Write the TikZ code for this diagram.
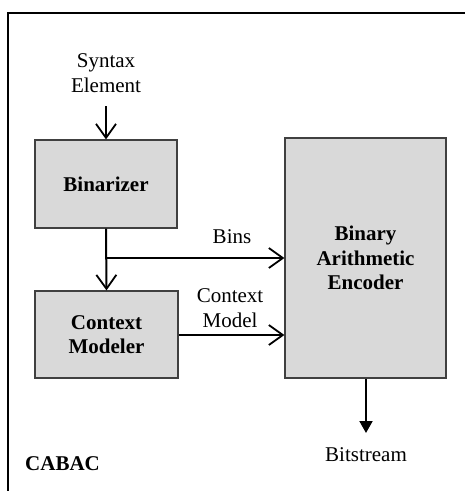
\documentclass[tikz,border=0pt]{standalone}
\usepackage{fontspec}
\setmainfont{Liberation Serif}
\usetikzlibrary{arrows.meta}
\begin{document}
\begin{tikzpicture}[x=1pt,y=-1pt,
  blk/.style={draw=black!75, line width=1.2pt, fill=black!15, inner sep=0pt, align=center, font=\fontsize{21}{24.5}\selectfont\bfseries},
  lbl/.style={inner sep=0pt, align=center, font=\fontsize{21}{24.5}\selectfont},
  vee/.style={line width=2pt, -{Straight Barb[length=14pt,width=20pt,line width=1.8pt]}},
  tri/.style={line width=2pt, -{Triangle[length=12pt,width=13pt]}}
]
\useasboundingbox (0,0) rectangle (465,491);
\fill[white] (0,0) rectangle (465,491);
% frame
\draw[line width=2.5pt] (8,491) -- (8,13) -- (465,13);
% blocks
\node[blk, minimum width=142pt, minimum height=88pt] (bin) at (106,184) {Binarizer};
\node[blk, minimum width=143pt, minimum height=87pt] (cm) at (106.5,334.5) {Context\\Modeler};
\node[blk, minimum width=161pt, minimum height=240pt] (bae) at (365.5,258) {Binary\\Arithmetic\\Encoder};
% labels
\node[lbl] (se) at (106,73) {Syntax\\Element};
\node[lbl] (bins) at (232,237) {Bins};
\node[lbl] (cmod) at (230,308) {Context\\Model};
\node[lbl] (bs) at (366,455) {Bitstream};
\node[lbl, anchor=west, font=\fontsize{21}{24.5}\selectfont\bfseries] (cabac) at (25,464) {CABAC};
% connectors
\coordinate (seend) at (106,106);
\coordinate (junc) at (106,258);
\coordinate (bsend) at (366,433);
\draw[vee] (seend) -- (bin.north);
\draw[vee] (bin.south) -- (cm.north);
\draw[vee] (junc) -- (bae.west |- junc);
\draw[vee] (cm.east |- 0,335) -- (bae.west |- 0,335);
\draw[tri] (bae.south -| bsend) -- (bsend);
\end{tikzpicture}
\end{document}
